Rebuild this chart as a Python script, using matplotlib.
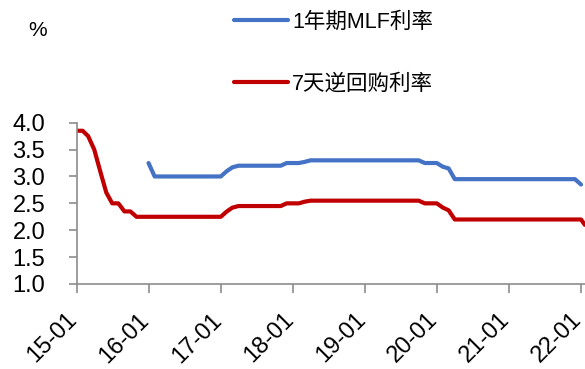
import matplotlib
matplotlib.use('Agg')
from matplotlib import pyplot as plt
import matplotlib.dates as mdates
import matplotlib.transforms as mtransforms
import pandas as pd

## 폰트: 숫자는 Arial 계열, 한자는 Noto CJK
matplotlib.rcParams['font.family'] = ['Liberation Sans', 'Noto Sans CJK SC']
matplotlib.rcParams['axes.unicode_minus'] = False

## 7天逆回购利率 (월별, 15-01 ~ 22-01)
repo_2015 = [3.85, 3.85, 3.75, 3.50, 3.10, 2.70, 2.50, 2.50, 2.35, 2.35, 2.25, 2.25]
repo_2016 = [2.25, 2.25, 2.25, 2.25, 2.25, 2.25, 2.25, 2.25, 2.25, 2.25, 2.25, 2.25]
repo_2017 = [2.25, 2.35, 2.42, 2.45, 2.45, 2.45, 2.45, 2.45, 2.45, 2.45, 2.45, 2.50]
repo_2018 = [2.50, 2.50, 2.53, 2.55, 2.55, 2.55, 2.55, 2.55, 2.55, 2.55, 2.55, 2.55]
repo_2019 = [2.55, 2.55, 2.55, 2.55, 2.55, 2.55, 2.55, 2.55, 2.55, 2.55, 2.50, 2.50]
repo_2020 = [2.50, 2.42, 2.37, 2.20, 2.20, 2.20, 2.20, 2.20, 2.20, 2.20, 2.20, 2.20]
repo_2021 = [2.20, 2.20, 2.20, 2.20, 2.20, 2.20, 2.20, 2.20, 2.20, 2.20, 2.20, 2.20]
repo_2022 = [2.20, 2.10]
repo_2022_dates = ['2022-01-01', '2022-01-20']

## 1年期MLF利率 (월별, 16-01 ~ 22-01)
mlf_2016 = [3.25, 3.00, 3.00, 3.00, 3.00, 3.00, 3.00, 3.00, 3.00, 3.00, 3.00, 3.00]
mlf_2017 = [3.00, 3.10, 3.17, 3.20, 3.20, 3.20, 3.20, 3.20, 3.20, 3.20, 3.20, 3.25]
mlf_2018 = [3.25, 3.25, 3.27, 3.30, 3.30, 3.30, 3.30, 3.30, 3.30, 3.30, 3.30, 3.30]
mlf_2019 = [3.30, 3.30, 3.30, 3.30, 3.30, 3.30, 3.30, 3.30, 3.30, 3.30, 3.25, 3.25]
mlf_2020 = [3.25, 3.18, 3.15, 2.95, 2.95, 2.95, 2.95, 2.95, 2.95, 2.95, 2.95, 2.95]
mlf_2021 = [2.95, 2.95, 2.95, 2.95, 2.95, 2.95, 2.95, 2.95, 2.95, 2.95, 2.95, 2.95]
mlf_2022 = [2.85]

yticks = [1.0, 1.5, 2.0, 2.5, 3.0, 3.5, 4.0]

repo = repo_2015 + repo_2016 + repo_2017 + repo_2018 + repo_2019 + repo_2020 + repo_2021 + repo_2022
repo_x = list(pd.date_range('2015-01-01', '2021-12-01', freq='MS')) + list(pd.to_datetime(repo_2022_dates))
mlf = mlf_2016 + mlf_2017 + mlf_2018 + mlf_2019 + mlf_2020 + mlf_2021 + mlf_2022
mlf_x = pd.date_range('2016-01-01', '2022-01-01', freq='MS')

fig = plt.figure(figsize=(5.85, 3.69), dpi=100)
ax = fig.add_axes([76.5/585, 1 - 284/369, 508.5/585, 161.3/369])

ax.plot(mlf_x, mlf, color='#4472C4', lw=3, label='1年期MLF利率', solid_capstyle='round')
ax.plot(repo_x, repo, color='#C00000', lw=3, label='7天逆回购利率', solid_capstyle='round')

ax.set_ylim(1.0, 4.0)
ax.set_yticks(yticks)
ax.set_yticklabels(['%.1f' % v for v in yticks])
ax.set_xlim(pd.Timestamp('2015-01-01'), pd.Timestamp('2022-01-21'))
ax.set_xticks(pd.date_range('2015-01-01', '2022-01-01', freq='YS'))
ax.xaxis.set_major_formatter(mdates.DateFormatter('%y-%m'))

## 축 스타일
for s in ['top', 'right']:
    ax.spines[s].set_visible(False)
for s in ['left', 'bottom']:
    ax.spines[s].set_color('#8c8c8c')
    ax.spines[s].set_linewidth(1.2)
ax.tick_params(axis='y', direction='out', length=6, width=1.2, color='#8c8c8c', pad=16.5, labelsize=17)
ax.tick_params(axis='x', direction='out', length=6.5, width=1.2, color='#8c8c8c', pad=17, labelsize=17)
## x 라벨 45도 회전, 눈금 바로 아래에 끝나도록 살짝 왼쪽으로
shift = mtransforms.ScaledTranslation(-2.5/100, 0, fig.dpi_scale_trans)
for lab in ax.get_xticklabels():
    lab.set_rotation(45)
    lab.set_ha('right')
    lab.set_va('center')
    lab.set_rotation_mode('anchor')
    lab.set_transform(lab.get_transform() + shift)

fig.text(28/585, 1 - 31/369, '%', fontsize=15, va='center')

## 범례는 그래프 위쪽에 세로로
fig.legend(loc='upper left', bbox_to_anchor=(234/585, 1 - 11.5/369), frameon=False,
           fontsize=15.5, handlelength=2.5, handletextpad=0.2, labelspacing=1.9,
           borderpad=0, borderaxespad=0)

plt.savefig('out.png', dpi=100)
